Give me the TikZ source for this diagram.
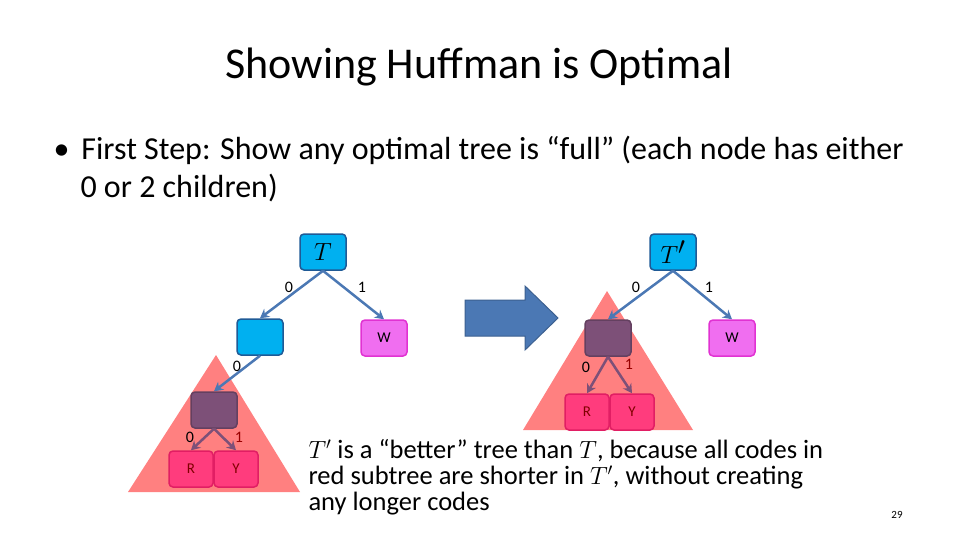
\documentclass[tikz,border=0pt]{standalone}
\usepackage{fontspec}
\setmainfont{Carlito}
\usetikzlibrary{positioning,arrows.meta}
\definecolor{nodeblue}{RGB}{0,176,240}
\definecolor{edgeblue}{RGB}{31,90,150}
\definecolor{arrowblue}{RGB}{75,120,180}
\definecolor{wpink}{RGB}{240,110,240}
\definecolor{wborder}{RGB}{225,50,210}
\definecolor{subpurple}{RGB}{125,80,120}
\definecolor{leafred}{RGB}{255,60,125}
\definecolor{leafborder}{RGB}{225,30,100}
\definecolor{subred}{RGB}{255,128,128}
\tikzset{
  tnode/.style={draw=edgeblue, line width=1.5pt, fill=nodeblue, rounded corners=4pt, minimum width=46pt, minimum height=36pt, inner sep=0pt},
  wnode/.style={tnode, draw=wborder, fill=wpink, font=\fontsize{15}{15}\selectfont},
  pnode/.style={tnode, draw=subpurple!80!black, fill=subpurple},
  leaf/.style={tnode, draw=leafborder, fill=leafred, minimum width=44pt, font=\fontsize{15}{15}\selectfont, text=red!50!black},
  edge/.style={arrowblue, line width=2.5pt, -{Stealth[length=9pt,width=10pt]}},
  subedge/.style={edge, subpurple},
  bit/.style={font=\fontsize{16}{16}\selectfont}
}
\begin{document}
\begin{tikzpicture}[x=1pt,y=-1pt]
  \useasboundingbox (0,0) rectangle (960,540);
  \node at (479,67) {\fontsize{44}{44}\selectfont Showing Huffman is Optimal};
  \node[anchor=west, align=left, font=\fontsize{32}{38}\selectfont] at (50,169) {•\hspace{12pt}First Step: Show any optimal tree is “full” (each node has either\\\hspace{27pt}0 or 2 children)};

  % left tree
  \fill[subred] (216,355) -- (300,492) -- (128,492) -- cycle;
  \node[tnode] (t) at (323,252) {\fontsize{40}{40}\selectfont$T$};
  \node[tnode] (l) at (260,337) {};
  \node[wnode] (w) at (384,338) {W};
  \node[pnode] (p) at (214,410) {};
  \node[leaf] (r) at (191,469) {R};
  \node[leaf] (y) at (236,469) {Y};
  \draw[edge] (t.south) -- (l.north);
  \draw[edge] (t.south) -- (w.north);
  \draw[edge] (l.south) -- (p.north);
  \draw[subedge] (p.south) -- (r.north);
  \draw[subedge] (p.south) -- (y.north);
  \node[bit] at (289,287) {0};
  \node[bit] at (362,287) {1};
  \node[bit] at (237,366) {0};
  \node[bit] at (190,437) {0};
  \node[bit, text=red!60!black] at (239,437) {1};

  % arrow
  \draw[arrowblue!80!black, fill=arrowblue, line width=1pt] (465,300) -- (525,300) -- (525,286) -- (558,318) -- (525,350) -- (525,336) -- (465,336) -- cycle;

  % right tree
  \fill[subred] (607,291) -- (693,430) -- (523,430) -- cycle;
  \node[tnode] (t2) at (673,252) {\fontsize{40}{40}\selectfont$T'$};
  \node[pnode] (p2) at (608,338) {};
  \node[wnode] (w2) at (732,338) {W};
  \node[leaf] (r2) at (587,412) {R};
  \node[leaf] (y2) at (632,412) {Y};
  \draw[edge] (t2.south) -- (p2.north);
  \draw[edge] (t2.south) -- (w2.north);
  \draw[subedge] (p2.south) -- (r2.north);
  \draw[subedge] (p2.south) -- (y2.north);
  \node[bit] at (636,287) {0};
  \node[bit] at (709,287) {1};
  \node[bit] at (586,367) {0};
  \node[bit, text=red!60!black] at (629,364) {1};

  \node[anchor=north west, align=left, font=\fontsize{26.5}{26}\selectfont] at (305,436) {$T'$ is a “better” tree than $T$, because all codes in\\red subtree are shorter in $T'$, without creating\\any longer codes};
  \node[font=\fontsize{11}{11}\selectfont] at (897,515) {29};
\end{tikzpicture}
\end{document}
